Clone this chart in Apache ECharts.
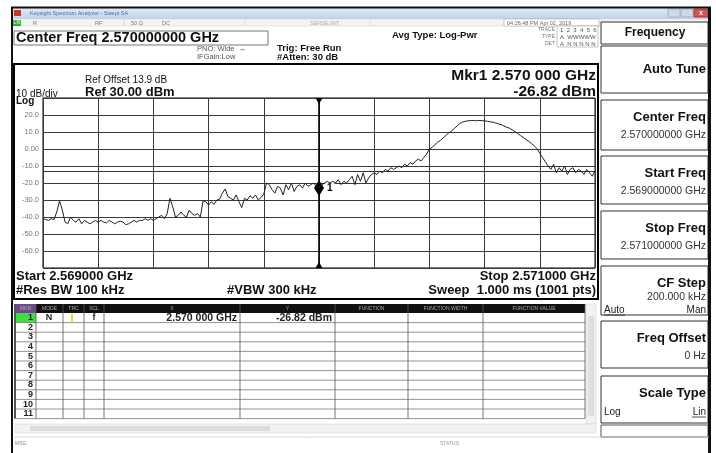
<!DOCTYPE html>
<html>
<head>
<meta charset="utf-8">
<script src="https://cdn.jsdelivr.net/npm/echarts@6/dist/echarts.min.js"></script>
<style>
html,body{margin:0;padding:0;background:#fff}
#chart{width:716px;height:453px}
</style>
</head>
<body>
<div id="chart"></div>
<script>
// sweep settings
var startGHz = 2.569, stopGHz = 2.571, spanKHz = 2000
var markerKHz = 1000
var displayLine = -13
// trace (dBm), 201 points across the span
var traceDbm = [
  -41, -41.5, -42, -41, -41.5, -37, -30.5, -36, -43, -44,
  -40, -42, -43, -41, -44, -42, -43, -44, -43, -42,
  -43, -42, -43, -43.5, -42, -43, -44, -43, -42.5, -43,
  -44.5, -44, -43, -42, -43, -42, -42, -41, -42, -41,
  -42, -41, -40, -39, -41, -38, -29, -34, -40, -39,
  -37, -39, -40, -36, -38, -39, -38, -40, -30.5, -31,
  -33, -31, -32.5, -30, -29.5, -26, -23.5, -28, -29, -30,
  -27, -31, -34.5, -29, -30, -27.5, -29, -27, -30, -28.5,
  -26.5, -20, -21, -24, -26, -22, -23, -27, -21, -24,
  -20, -25, -22, -21, -23, -20, -22, -21, -20, -22,
  -23, -21, -20, -19, -20, -19, -20, -18, -21, -19,
  -20, -18, -16, -21, -15, -19, -14, -20, -17, -15,
  -14, -15, -13, -14, -12, -13, -11, -12, -11, -10,
  -11, -9, -10, -8, -9, -7, -6, -7, -5, -3,
  0, 1, 2.5, 4, 5, 6.5, 8, 9.5, 10.5, 12,
  13.5, 15, 15.8, 16.3, 16.6, 16.7, 16.8, 16.6, 16.8, 16.7,
  16.5, 16.3, 16, 15.8, 15.3, 14.8, 14.3, 13.6, 12.8, 12.2,
  11.3, 10.2, 9.1, 7.9, 6.8, 5.6, 4.5, 3.2, 1.8, 0.2,
  -2.5, -5, -7.5, -10, -12, -9, -14, -11, -13, -10,
  -15, -12, -11, -14, -12, -13, -15, -12, -14, -16, -13
]
// marker table
var mkrCols = ['MKR', 'MODE', 'TRC', 'SCL', 'X', 'Y', 'FUNCTION', 'FUNCTION WIDTH', 'FUNCTION VALUE']
var colEdges = [15, 36, 63, 84, 104, 240, 335, 408, 483, 585]
var mkrRows = ['1', '2', '3', '4', '5', '6', '7', '8', '9', '10', '11']
var mkr1Row = ['N', '1', 'f', '2.570 000 GHz', '-26.82 dBm']
// soft keys
var softKeys = [
  {title: 'Auto Tune', y: 46, h: 47},
  {title: 'Center Freq', value: '2.570000000 GHz', y: 100, h: 50},
  {title: 'Start Freq', value: '2.569000000 GHz', y: 156, h: 48},
  {title: 'Stop Freq', value: '2.571000000 GHz', y: 211, h: 48},
  {title: 'CF Step', value: '200.000 kHz', left: 'Auto', right: 'Man', y: 266, h: 49},
  {title: 'Freq Offset', value: '0 Hz', y: 321, h: 47},
  {title: 'Scale Type', left: 'Log', right: 'Lin', y: 376, h: 47}
]

var FONT = '"Liberation Sans", Arial, sans-serif'
var G = []
function txt(x, y, s, size, o) {
  o = o || {}
  G.push({type: 'text', z: 50, style: {
    text: s, x: x, y: y,
    font: (o.bold ? 'bold ' : '') + size + 'px ' + FONT,
    fill: o.color || '#111',
    textAlign: o.align || 'left',
    textVerticalAlign: 'middle'
  }})
}
function rect(x, y, w, h, fill, stroke, lw, r) {
  G.push({type: 'rect', z: 10, shape: {x: x, y: y, width: w, height: h, r: r || 0},
    style: {fill: fill || 'none', stroke: stroke || null, lineWidth: lw || 1}})
}
function line(x1, y1, x2, y2, color, lw) {
  G.push({type: 'line', z: 20, shape: {x1: x1, y1: y1, x2: x2, y2: y2},
    style: {stroke: color || '#000', lineWidth: lw || 1}})
}

// window frame + title bar
G.push({type: 'rect', z: 5, shape: {x: 12, y: 8, width: 697, height: 11},
  style: {fill: new echarts.graphic.LinearGradient(0, 0, 0, 1, [
    {offset: 0, color: '#dfeaf7'}, {offset: 1, color: '#bed3ea'}])}})
line(11, 7.5, 711, 7.5, '#111', 2)
line(12, 7, 12, 453, '#111', 2)
line(709.5, 7, 709.5, 453, '#111', 3)
rect(14, 10, 7, 6, '#c0392b')
txt(30, 13.5, 'Keysight Spectrum Analyzer - Swept SA', 5.5, {color: '#4a6c9a'})
rect(668, 9, 12, 8, '#cdd9e8', '#9fb2c8')
rect(681, 9, 12, 8, '#cdd9e8', '#9fb2c8')
rect(694, 9, 14, 8, '#d9534f', '#a33')
txt(701, 13, 'x', 7, {color: '#fff', align: 'center', bold: true})

// status row
rect(12, 19, 697, 7, '#f4f4f4', '#cfcfcf', 0.5)
rect(13, 20, 8, 6, '#2fae3a')
txt(17, 23, 'LXI', 4.5, {color: '#fff', align: 'center'})
txt(33, 23, 'R', 5.5, {color: '#777'})
txt(95, 23, 'RF', 5.5, {color: '#777'})
line(124, 19, 124, 26, '#bbb', 0.5)
txt(131, 23, '50 Ω', 5.5, {color: '#777'})
txt(162, 23, 'DC', 5.5, {color: '#777'})
txt(310, 23, 'SENSE:INT', 5.5, {color: '#aaa'})
line(245, 19, 245, 26, '#ccc', 0.5)
line(370, 19, 370, 26, '#ccc', 0.5)
rect(504, 19, 95, 7, '#fff', '#999', 0.5)
txt(507, 23, '04:26:48 PM Apr 02, 2019', 5.5, {color: '#666'})

// header
rect(14, 31, 254, 14, '#fff', '#777', 1)
txt(16, 38, 'Center Freq 2.570000000 GHz', 14.5, {bold: true})
txt(197, 49, 'PNO: Wide  \u2194', 7.5, {color: '#555'})
txt(197, 57, 'IFGain:Low', 7.5, {color: '#555'})
txt(277, 48, 'Trig: Free Run', 9.5, {bold: true})
txt(277, 57, '#Atten: 30 dB', 9.5, {bold: true})
txt(392, 35, 'Avg Type: Log-Pwr', 9.5, {bold: true})
txt(555, 30, 'TRACE', 5, {color: '#777', align: 'right'})
txt(555, 37, 'TYPE', 5, {color: '#777', align: 'right'})
txt(555, 44, 'DET', 5, {color: '#777', align: 'right'})
rect(557, 26, 41, 21, '#fff', '#888', 0.5)
txt(560, 30, '1  2  3  4  5  6', 6, {color: '#555'})
txt(560, 37, 'A  WWWWW', 6, {color: '#555'})
txt(560, 44, 'A  N N N N N', 6, {color: '#555'})

// chart frame and annotations
rect(14, 64, 584, 235, 'none', '#000', 2)
txt(85, 80, 'Ref Offset 13.9 dB', 10)
txt(16, 94, '10 dB/div', 10)
txt(85, 92, 'Ref 30.00 dBm', 13, {bold: true})
txt(16, 101, 'Log', 10, {bold: true})
txt(596, 76, 'Mkr1 2.570 000 GHz', 15.5, {bold: true, align: 'right'})
txt(596, 92, '-26.82 dBm', 15.5, {bold: true, align: 'right'})
txt(16, 276, 'Start ' + startGHz.toFixed(6) + ' GHz', 13, {bold: true})
txt(596, 276, 'Stop ' + stopGHz.toFixed(6) + ' GHz', 13, {bold: true, align: 'right'})
txt(16, 290, '#Res BW 100 kHz', 13, {bold: true})
txt(227, 290, '#VBW 300 kHz', 13, {bold: true})
txt(596, 290, 'Sweep  1.000 ms (1001 pts)', 13, {bold: true, align: 'right'})

// marker table
var rowTop = 313, rowH = 9.6
rect(15, 304, 570, 9, '#111')
rect(15, 304, 21, 9, '#6b4a8a')
mkrCols.forEach(function (c, i) {
  txt((colEdges[i] + colEdges[i + 1]) / 2, 308.5, c, 5, {color: '#aaa', align: 'center'})
})
rect(15, rowTop, 21, rowH, '#39e339')
mkrRows.forEach(function (r, i) {
  var yy = rowTop + rowH * (i + 1)
  line(15, yy, 585, yy, '#777', 0.8)
  txt(33, rowTop + rowH * i + rowH / 2, r, 9, {bold: true, color: '#222', align: 'right'})
})
colEdges.forEach(function (x, i) {
  line(x, 304, x, rowTop + rowH * mkrRows.length, '#555', i === 0 ? 2 : 0.8)
})
txt(49, rowTop + rowH / 2, mkr1Row[0], 9, {bold: true, color: '#222', align: 'center'})
rect(71, rowTop + 1, 2, rowH - 2, '#e7d23c')
txt(94, rowTop + rowH / 2, mkr1Row[2], 9, {bold: true, color: '#222', align: 'center'})
txt(237, rowTop + rowH / 2, mkr1Row[3], 10.5, {bold: true, color: '#222', align: 'right'})
txt(332, rowTop + rowH / 2, mkr1Row[4], 10.5, {bold: true, color: '#222', align: 'right'})
// scroll bars
rect(586, 304, 10, 120, '#f2f2f2', '#ccc', 0.5)
rect(588, 316, 6, 100, '#dedede')
rect(15, 424, 581, 9, '#f2f2f2', '#ccc', 0.5)
rect(30, 426, 240, 5, '#dcdcdc')
line(14, 437, 709, 437, '#ccc', 0.8)
txt(15, 444, 'MSG', 5, {color: '#888'})
txt(440, 444, 'STATUS', 5, {color: '#999'})

// soft keys
rect(601, 22, 107, 22, '#fff', '#333', 1)
txt(655, 33, 'Frequency', 12, {bold: true, align: 'center'})
softKeys.forEach(function (k) {
  rect(601, k.y, 107, k.h, '#fff', '#333', 1)
  var ty = k.value || k.left ? k.y + 17 : k.y + k.h / 2
  txt(706, ty, k.title, 13, {bold: true, align: 'right'})
  if (k.value) txt(706, k.y + (k.left ? 31 : 35), k.value, 10.5, {color: '#333', align: 'right'})
  if (k.left) {
    var ly = k.y + (k.value ? 44 : 36)
    txt(604, ly, k.left, 10, {color: '#222'})
    txt(706, ly, k.right, 10, {color: '#222', align: 'right'})
    var under = k.left === 'Auto' ? [604, 625] : [692, 706]
    line(under[0], ly + 5, under[1], ly + 5, '#222', 0.8)
  }
})
rect(601, 425, 107, 12, '#fff', '#555', 1)

var chart = echarts.init(document.getElementById('chart'))
var pts = traceDbm.map(function (v, i) { return [i * spanKHz / (traceDbm.length - 1), v] })
var option = {
  animation: false,
  backgroundColor: '#fff',
  grid: {left: 43, top: 98, width: 552, height: 170, show: true, borderColor: '#000', borderWidth: 1},
  xAxis: {
    type: 'value', min: 0, max: spanKHz, interval: 200,
    axisLine: {show: false}, axisTick: {show: false}, axisLabel: {show: false},
    splitLine: {show: true, lineStyle: {color: '#3a3a3a', width: 1}}
  },
  yAxis: {
    type: 'value', min: -70, max: 30, interval: 10,
    axisLine: {show: false}, axisTick: {show: false},
    axisLabel: {
      color: '#777', fontSize: 7.5, fontFamily: 'Liberation Sans', margin: 4,
      formatter: function (v) { return (v === 30 || v === -70) ? '' : (v === 0 ? '0.00' : v.toFixed(1)) }
    },
    splitLine: {show: true, lineStyle: {color: '#3a3a3a', width: 1}}
  },
  graphic: G,
  series: [{
    type: 'line', data: pts, symbol: 'none', z: 5,
    lineStyle: {color: '#222', width: 1},
    markLine: {
      silent: true, symbol: 'none', label: {show: false},
      data: [
        {xAxis: markerKHz, lineStyle: {color: '#000', width: 1.6, type: 'solid'}},
        {yAxis: displayLine, lineStyle: {color: '#333', width: 1, type: 'solid'}}
      ]
    },
    markPoint: {
      silent: true,
      data: [
        {coord: [markerKHz, traceDbm[100]], symbol: 'diamond', symbolSize: [10, 16],
          itemStyle: {color: '#000'},
          label: {show: true, position: 'right', formatter: '1', color: '#000', fontSize: 10,
            fontWeight: 'bold', backgroundColor: '#fff', padding: [0, 2], distance: 1}},
        {coord: [markerKHz, 30], symbol: 'triangle', symbolRotate: 180, symbolSize: [7, 6],
          symbolOffset: [0, 3], itemStyle: {color: '#000'}, label: {show: false}},
        {coord: [markerKHz, -70], symbol: 'triangle', symbolSize: [7, 6],
          symbolOffset: [0, -3], itemStyle: {color: '#000'}, label: {show: false}}
      ]
    }
  }]
}
chart.setOption(option)
</script>
</body>
</html>
